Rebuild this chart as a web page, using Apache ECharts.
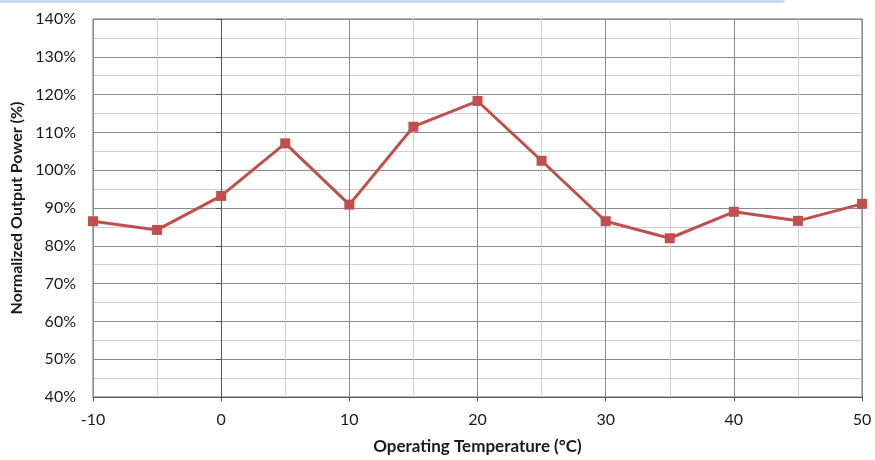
<!DOCTYPE html>
<html><head><meta charset="utf-8">
<script src="https://cdn.jsdelivr.net/npm/echarts@6/dist/echarts.min.js"></script>
<style>html,body{margin:0;padding:0;background:#fff}#c{width:875px;height:460px}</style>
</head><body><div id="c"></div>
<script>
const temperatures = [-10, -5, 0, 5, 10, 15, 20, 25, 30, 35, 40, 45, 50];
const outputPower = [86.5, 84.2, 93.2, 107.1, 90.9, 111.5, 118.3, 102.5, 86.5, 82.0, 89.0, 86.6, 91.1];
const xTitle = 'Operating Temperature (°C)';
const yTitle = 'Normalized Output Power (%)';

const chart = echarts.init(document.getElementById('c'), null, {renderer: 'canvas'});
const font = 'Lato, "Open Sans", sans-serif';
chart.setOption({
  animation: false,
  graphic: [{
    type: 'rect', left: 0, top: 0,
    shape: {width: 785, height: 3, r: [0, 0, 3, 0]},
    style: {fill: '#c9daf0'}, z: 10
  }],
  grid: {left: 93, right: 13, top: 19, bottom: 63, show: true, borderColor: '#6e6e6e', borderWidth: 1},
  xAxis: {
    type: 'value', min: -10, max: 50, interval: 10,
    name: xTitle, nameLocation: 'middle', nameGap: 41,
    nameTextStyle: {fontFamily: font, fontSize: 17, fontWeight: 'bold', color: '#1a1a1a'},
    axisLine: {show: true, onZero: false, lineStyle: {color: '#555', width: 1}},
    axisTick: {show: true, inside: false, length: 4, lineStyle: {color: '#555'}},
    axisLabel: {fontFamily: font, fontSize: 16, color: '#1a1a1a', margin: 15},
    splitLine: {show: true, lineStyle: {color: '#8c8c8c', width: 1}},
    minorTick: {show: false, splitNumber: 2},
    minorSplitLine: {show: true, lineStyle: {color: '#d0d0d0', width: 1}}
  },
  yAxis: {
    type: 'value', min: 40, max: 140, interval: 10,
    name: yTitle, nameLocation: 'middle', nameGap: 60,
    nameTextStyle: {fontFamily: font, fontSize: 16, fontWeight: 'bold', color: '#1a1a1a'},
    axisLine: {show: true, lineStyle: {color: '#555', width: 1}},
    axisTick: {show: true, length: 5, lineStyle: {color: '#555'}},
    axisLabel: {fontFamily: font, fontSize: 16, color: '#1a1a1a', margin: 17, formatter: v => v + '%'},
    splitLine: {show: true, lineStyle: {color: '#8c8c8c', width: 1}},
    minorTick: {show: false, splitNumber: 2},
    minorSplitLine: {show: true, lineStyle: {color: '#d0d0d0', width: 1}}
  },
  series: [{
    type: 'line',
    data: temperatures.map((t, i) => [t, outputPower[i]]),
    symbol: 'rect', symbolSize: 10,
    lineStyle: {color: '#c0504d', width: 3},
    itemStyle: {color: '#c0504d'},
    z: 5
  }]
});
</script>
</body></html>
